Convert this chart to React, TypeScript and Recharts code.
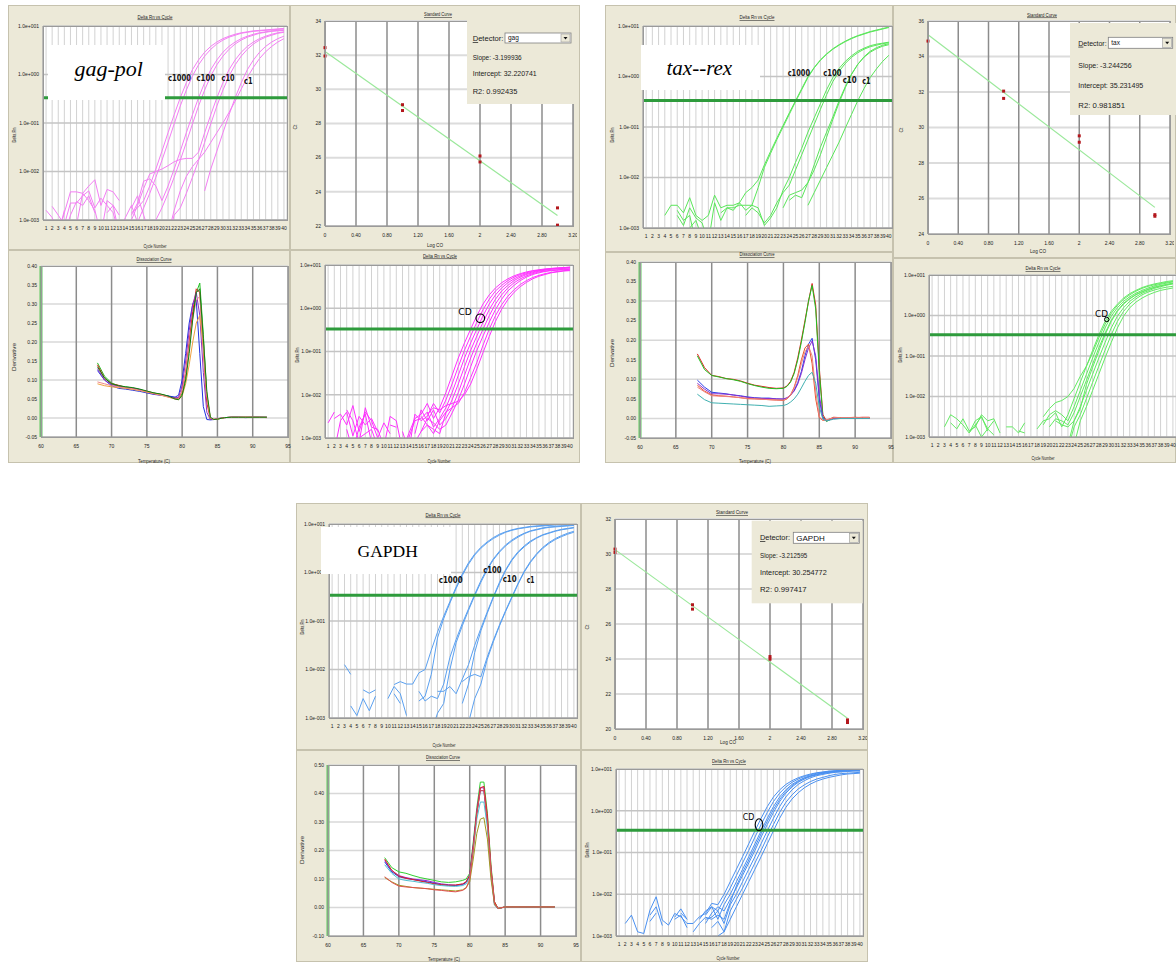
import React from "react";
import {
  CartesianGrid,
  ComposedChart,
  Line,
  LineChart,
  ReferenceLine,
  Scatter,
  XAxis,
  YAxis,
} from "recharts";

// log10(Delta Rn) values; N = no reading plotted (negative / missing Delta Rn)
const N = null;
type Curve = (number | null)[];

const cycles = [1, 2, 3, 4, 5, 6, 7, 8, 9, 10, 11, 12, 13, 14, 15, 16, 17, 18, 19, 20, 21, 22, 23, 24, 25, 26, 27, 28, 29, 30, 31, 32, 33, 34, 35, 36, 37, 38, 39, 40];
const logTicks = [-3, -2, -1, 0, 1];

// gag-pol standards (c1000, c100, c10, c1 in duplicate)
const gagPolRn: Curve[] = [
  [-2.8, -2.95, -3.3, -2.85, -2.42, -2.42, -2.45, -2.3, -2.17, -2.7, -2.37, -2.42, -2.6, N, -2.85, -2.75, -2.6, -2.3, -1.95, -1.58, -1.2, -0.83, -0.48, -0.17, 0.1, 0.3, 0.46, 0.58, 0.67, 0.74, 0.79, 0.83, 0.86, 0.88, 0.9, 0.91, 0.92, 0.93, 0.94, 0.95],
  [N, -2.72, -2.9, -3.1, -2.65, -2.65, -2.5, -2.4, -2.75, -2.55, -2.7, -2.85, -3.3, -2.95, -2.7, -3.05, -2.75, -2.45, -2.12, -1.77, -1.4, -1.02, -0.65, -0.32, -0.03, 0.2, 0.38, 0.52, 0.63, 0.71, 0.77, 0.81, 0.85, 0.87, 0.89, 0.9, 0.91, 0.92, 0.93, 0.94],
  [N, N, -3.3, -2.8, N, -3.1, -2.45, -2.6, -2.8, -3.3, -2.6, -2.7, -2.9, N, -2.9, -2.65, -2.2, -2.15, -2.3, -2.6, -2.3, -1.95, -1.58, -1.2, -0.83, -0.48, -0.17, 0.1, 0.3, 0.46, 0.58, 0.67, 0.74, 0.79, 0.83, 0.86, 0.88, 0.9, 0.91, 0.92],
  [N, N, N, -3.3, -2.9, -2.62, -2.7, -2.5, -2.85, N, -2.85, -2.7, -3.3, N, -2.75, -2.5, -2.9, -3.3, -3.0, -2.75, -2.45, -2.12, -1.77, -1.4, -1.02, -0.65, -0.32, -0.03, 0.2, 0.38, 0.52, 0.63, 0.71, 0.77, 0.81, 0.85, 0.87, 0.89, 0.9, 0.91],
  [N, N, N, N, N, N, N, N, N, N, N, N, N, N, -3.0, -2.7, -2.35, -2.05, -2.0, -1.95, -1.88, -1.8, -1.75, -1.73, -1.73, -1.6, -1.2, -0.83, -0.48, -0.17, 0.1, 0.3, 0.46, 0.58, 0.67, 0.74, 0.79, 0.83, 0.86, 0.88],
  [N, N, N, N, N, N, N, N, N, N, N, N, N, N, N, N, N, N, N, N, -3.4, -2.9, -2.75, -2.45, -2.12, -1.77, -1.4, -1.02, -0.65, -0.32, -0.03, 0.2, 0.38, 0.52, 0.63, 0.71, 0.77, 0.81, 0.85, 0.87],
  [N, N, N, N, N, N, N, N, N, N, N, N, N, N, N, N, N, N, N, N, N, N, N, N, N, N, -2.4, -1.95, -1.58, -1.2, -0.83, -0.48, -0.17, 0.1, 0.3, 0.46, 0.58, 0.67, 0.74, 0.79],
  [N, N, N, N, N, N, N, N, N, N, N, N, N, N, N, N, N, N, N, N, -3.3, -2.8, -2.4, -2.1, -1.9, -1.75, -1.6, -1.4, -1.2, -1.0, -0.78, -0.55, -0.3, -0.06, 0.15, 0.33, 0.47, 0.58, 0.67, 0.74],
];
const gagPolThreshold = -0.48;

const gagCdRn: Curve[] = [
  [-2.65, -2.4, N, -2.35, -2.6, -3.1, -2.3, -2.75, -2.8, -3.2, -2.5, -2.6, -3.3, -2.9, -2.55, -2.45, -2.2, -2.55, -2.3, -1.95, -1.55, -1.15, -0.8, -0.48, -0.17, 0.1, 0.31, 0.47, 0.59, 0.68, 0.75, 0.8, 0.84, 0.87, 0.89, 0.91, 0.92, 0.93, 0.94, 0.95],
  [N, -2.55, -2.45, -2.7, -2.25, -2.85, -2.4, -2.6, -3.0, -2.65, -2.9, N, -2.85, -3.3, -2.45, -2.6, -2.5, -2.2, -2.42, -2.12, -1.75, -1.35, -0.97, -0.64, -0.32, -0.03, 0.21, 0.4, 0.53, 0.64, 0.72, 0.78, 0.82, 0.86, 0.88, 0.9, 0.92, 0.93, 0.94, 0.95],
  [N, -3.3, -2.6, -2.4, -2.95, -2.5, -2.7, -2.55, -2.85, N, -2.7, -2.75, N, -3.0, -2.6, -2.55, -2.4, -2.75, -2.55, -2.3, -1.95, -1.55, -1.15, -0.8, -0.48, -0.17, 0.1, 0.31, 0.47, 0.59, 0.68, 0.75, 0.8, 0.84, 0.87, 0.89, 0.91, 0.92, 0.93, 0.94],
  [N, N, N, -2.8, -3.3, -2.75, -2.45, -3.1, N, N, -2.95, N, N, N, N, -2.5, -2.7, -2.8, -2.9, -2.42, -2.12, -1.75, -1.35, -0.97, -0.64, -0.32, -0.03, 0.21, 0.4, 0.53, 0.64, 0.72, 0.78, 0.82, 0.86, 0.88, 0.9, 0.91, 0.92, 0.93],
  [N, N, N, N, N, -3.0, -2.9, -2.8, -3.2, N, N, N, N, N, -2.9, -2.35, -2.6, -2.35, -2.7, -2.55, -2.3, -1.95, -1.55, -1.15, -0.8, -0.48, -0.17, 0.1, 0.31, 0.47, 0.59, 0.68, 0.75, 0.8, 0.84, 0.86, 0.88, 0.89, 0.9, 0.91],
  [N, N, N, N, N, N, N, N, N, N, N, N, N, N, -3.1, -2.85, -2.55, -2.65, -2.8, -2.7, -2.42, -2.12, -1.75, -1.35, -0.97, -0.64, -0.32, -0.03, 0.21, 0.4, 0.53, 0.64, 0.72, 0.78, 0.82, 0.85, 0.87, 0.88, 0.89, 0.9],
  [N, N, N, N, N, N, N, N, N, N, N, N, N, N, N, -2.85, -2.7, -2.9, -2.6, -2.4, -2.3, -2.2, -1.95, -1.6, -1.25, -0.85, -0.48, -0.17, 0.08, 0.28, 0.43, 0.55, 0.64, 0.71, 0.76, 0.8, 0.83, 0.85, 0.87, 0.88],
  [N, N, N, N, N, N, N, N, N, N, N, N, N, N, N, N, -2.45, -2.3, -2.35, -2.25, -2.2, -2.15, -2.0, -1.75, -1.4, -1.02, -0.65, -0.3, -0.02, 0.2, 0.37, 0.5, 0.6, 0.68, 0.74, 0.78, 0.82, 0.84, 0.86, 0.87],
];

// tax--rex standards
const taxRexRn: Curve[] = [
  [N, N, N, -2.75, -2.55, -2.55, -2.7, -2.4, -2.75, -2.85, -2.75, -2.35, -2.6, -2.55, -2.55, -2.5, -2.3, -2.2, -2.05, -1.75, -1.48, -1.22, -0.97, -0.72, -0.48, -0.24, 0.0, 0.18, 0.33, 0.45, 0.55, 0.63, 0.7, 0.76, 0.81, 0.85, 0.89, 0.92, 0.95, 0.98],
  [N, N, N, N, N, -2.75, -2.95, -2.6, -2.8, -2.9, -3.3, -2.5, -2.85, -2.6, -2.6, -2.55, -2.55, -2.55, -2.2, -1.8, -1.52, -1.25, -1.0, -0.75, -0.5, -0.26, -0.02, 0.17, 0.32, 0.44, 0.54, 0.62, 0.69, 0.75, 0.8, 0.84, 0.88, 0.91, 0.94, 0.97],
  [N, N, N, N, N, -2.65, -2.85, -2.75, -3.3, N, N, N, -2.7, -2.6, -2.65, -2.5, -2.65, -2.55, -2.6, -2.95, -2.8, -2.6, -2.25, -2.0, -1.7, -1.42, -1.1, -0.82, -0.54, -0.26, -0.02, 0.16, 0.3, 0.41, 0.5, 0.56, 0.61, 0.64, 0.66, 0.68],
  [N, N, N, N, N, N, N, -3.0, -2.85, -3.2, N, N, N, N, N, N, -2.75, -2.6, -2.7, -2.9, -2.75, -2.5, -2.3, -2.15, -1.85, -1.55, -1.25, -0.95, -0.65, -0.36, -0.1, 0.1, 0.26, 0.38, 0.47, 0.54, 0.59, 0.62, 0.65, 0.67],
  [N, N, N, N, N, N, N, N, N, N, N, N, N, N, N, N, N, N, N, N, N, N, -2.6, -2.35, -2.3, -2.25, -2.1, -1.85, -1.55, -1.2, -0.85, -0.52, -0.22, 0.04, 0.24, 0.39, 0.5, 0.57, 0.62, 0.65],
  [N, N, N, N, N, N, N, N, N, N, N, N, N, N, N, N, N, N, N, N, N, N, N, -2.45, -2.35, -2.4, -2.1, -1.75, -1.4, -1.1, -0.8, -0.48, -0.2, 0.05, 0.24, 0.38, 0.48, 0.55, 0.6, 0.63],
  [N, N, N, N, N, N, N, N, N, N, N, N, N, N, N, N, N, N, N, N, N, N, N, N, N, N, -2.55, -2.3, -2.05, -1.8, -1.55, -1.3, -1.02, -0.75, -0.48, -0.24, -0.02, 0.15, 0.3, 0.42],
];
const taxRexThreshold = -0.475;

const taxCdRn: Curve[] = [
  [N, N, -2.75, -2.45, -2.55, -2.7, -2.9, -2.6, -2.5, -2.8, -2.95, N, -2.75, -2.75, -2.9, -2.65, N, -2.8, -2.6, -2.55, -2.4, -2.75, -2.45, -2.05, -1.65, -1.25, -0.86, -0.48, -0.15, 0.1, 0.28, 0.43, 0.54, 0.62, 0.69, 0.74, 0.78, 0.81, 0.84, 0.86],
  [N, N, N, -2.65, -2.8, -2.55, -2.85, -2.75, -2.45, -2.6, -2.55, -2.9, N, N, N, -2.8, N, N, -2.7, -2.45, -2.35, -2.45, -2.6, -2.25, -1.85, -1.45, -1.05, -0.67, -0.31, -0.02, 0.19, 0.35, 0.46, 0.55, 0.62, 0.68, 0.73, 0.77, 0.8, 0.83],
  [N, N, N, N, N, N, -2.9, -2.7, -3.0, -2.8, -2.6, N, N, N, -2.85, -2.9, N, N, N, -2.75, -2.55, -2.6, -2.7, -2.4, -2.0, -1.6, -1.2, -0.8, -0.44, -0.12, 0.12, 0.3, 0.42, 0.52, 0.59, 0.65, 0.7, 0.74, 0.77, 0.8],
  [N, N, N, N, N, N, N, -2.7, -2.5, -2.85, N, -2.6, N, N, N, N, N, N, N, N, -2.6, -2.7, -2.75, -2.6, -2.3, -1.7, -1.28, -0.88, -0.48, -0.15, 0.1, 0.28, 0.41, 0.51, 0.58, 0.64, 0.69, 0.73, 0.76, 0.79],
  [N, N, N, N, N, N, N, N, N, N, N, N, N, N, N, N, N, N, N, N, N, N, -3.2, -2.6, -2.25, -1.85, -1.45, -1.05, -0.67, -0.31, -0.02, 0.19, 0.35, 0.46, 0.55, 0.61, 0.67, 0.71, 0.75, 0.78],
  [N, N, N, N, N, N, N, N, N, N, N, N, N, N, N, N, N, N, N, N, N, N, -3.3, -2.75, -2.45, -2.05, -1.65, -1.25, -0.86, -0.48, -0.15, 0.1, 0.28, 0.41, 0.51, 0.58, 0.63, 0.67, 0.7, 0.72],
  [N, N, N, N, N, N, N, N, N, N, N, N, N, N, N, N, N, N, N, N, N, N, N, -3.2, -2.6, -2.25, -1.85, -1.45, -1.05, -0.67, -0.31, -0.02, 0.19, 0.33, 0.43, 0.51, 0.57, 0.62, 0.65, 0.68],
  [N, N, N, N, N, N, N, N, N, N, N, N, N, N, N, N, N, N, -2.5, -2.3, -2.15, -2.1, -2.0, -1.8, -1.5, -1.25, -0.92, -0.55, -0.22, 0.05, 0.25, 0.4, 0.51, 0.6, 0.67, 0.72, 0.76, 0.79, 0.82, 0.84],
];

// GAPDH standards
const gapdhRn: Curve[] = [
  [N, N, -1.9, -2.1, N, -2.42, -2.49, -2.42, N, N, -2.31, -2.25, -2.3, -2.3, -2.07, -2.0, -1.6, -1.23, -0.9, -0.6, -0.3, -0.03, 0.2, 0.38, 0.52, 0.63, 0.72, 0.79, 0.84, 0.88, 0.91, 0.93, 0.95, 0.96, 0.97, 0.98, 0.99, 0.99, 1.0, 1.0],
  [N, N, N, -2.75, -2.95, -2.6, -2.85, -2.55, N, -2.6, -2.35, -2.5, -2.95, N, -2.65, -2.55, -2.1, -1.35, -0.95, -0.63, -0.33, -0.06, 0.17, 0.36, 0.5, 0.61, 0.7, 0.77, 0.83, 0.87, 0.9, 0.92, 0.94, 0.95, 0.96, 0.97, 0.98, 0.98, 0.99, 0.99],
  [N, N, N, N, N, N, -2.75, N, N, N, -2.5, -2.7, N, N, -2.45, -2.65, -2.55, -2.6, -2.3, -1.75, -1.38, -1.05, -0.75, -0.45, -0.17, 0.08, 0.28, 0.44, 0.57, 0.67, 0.75, 0.81, 0.86, 0.89, 0.92, 0.94, 0.95, 0.96, 0.97, 0.98],
  [N, N, N, N, N, N, N, N, N, N, N, N, N, N, N, N, -3.3, -2.9, -2.7, -2.0, -1.45, -1.1, -0.78, -0.48, -0.2, 0.05, 0.26, 0.42, 0.55, 0.65, 0.73, 0.8, 0.85, 0.88, 0.91, 0.93, 0.94, 0.95, 0.96, 0.97],
  [N, N, N, N, N, N, N, N, N, N, N, N, N, N, N, N, N, -2.45, -2.45, -2.35, -2.5, -2.2, -1.9, -1.5, -1.15, -0.82, -0.5, -0.2, 0.06, 0.27, 0.43, 0.55, 0.65, 0.72, 0.78, 0.82, 0.86, 0.89, 0.91, 0.93],
  [N, N, N, N, N, N, N, N, N, N, N, N, N, N, N, N, N, N, N, -2.7, N, -2.7, -2.3, -1.65, -1.2, -0.85, -0.52, -0.23, 0.04, 0.25, 0.41, 0.53, 0.63, 0.71, 0.77, 0.81, 0.85, 0.88, 0.9, 0.92],
  [N, N, N, N, N, N, N, N, N, N, N, N, N, N, N, N, N, N, N, N, N, -2.25, -2.15, -2.1, -2.15, -1.75, -1.4, -1.08, -0.78, -0.5, -0.22, 0.03, 0.23, 0.39, 0.52, 0.62, 0.7, 0.76, 0.81, 0.85],
  [N, N, N, N, N, N, N, N, N, N, N, N, N, N, N, N, N, N, N, N, N, N, -3.1, -2.6, -2.3, -1.8, -1.43, -1.1, -0.8, -0.52, -0.24, 0.01, 0.21, 0.37, 0.5, 0.6, 0.68, 0.74, 0.79, 0.83],
];
const gapdhThreshold = -0.47;

const gapdhCdRn: Curve[] = [
  [N, -2.7, -2.5, -2.9, -2.94, -2.38, -2.06, -2.62, -2.74, -2.46, -2.54, -2.7, -2.7, -2.54, -2.46, -2.22, -2.25, -2.0, -1.7, -1.4, -1.1, -0.79, -0.48, -0.18, 0.1, 0.33, 0.5, 0.63, 0.72, 0.79, 0.84, 0.88, 0.91, 0.93, 0.95, 0.96, 0.97, 0.98, 0.99, 1.0],
  [N, N, N, -2.75, N, -2.5, -2.3, -2.75, N, -2.6, -2.5, -2.8, N, -2.6, -2.4, -2.3, -2.4, -2.12, -1.85, -1.55, -1.25, -0.95, -0.63, -0.33, -0.04, 0.22, 0.42, 0.57, 0.68, 0.76, 0.82, 0.86, 0.9, 0.92, 0.94, 0.95, 0.96, 0.97, 0.98, 0.98],
  [N, N, N, N, N, -2.65, -2.45, N, N, -2.55, -2.35, -2.6, N, N, -2.5, -2.3, -2.6, -2.25, -2.0, -1.7, -1.4, -1.1, -0.79, -0.48, -0.18, 0.1, 0.33, 0.5, 0.63, 0.72, 0.79, 0.84, 0.88, 0.91, 0.93, 0.95, 0.96, 0.97, 0.97, 0.98],
  [N, N, N, N, N, N, N, N, N, N, -2.45, -2.6, N, N, -2.7, -2.45, -2.3, -2.4, -2.12, -1.85, -1.55, -1.25, -0.95, -0.63, -0.33, -0.04, 0.22, 0.42, 0.57, 0.68, 0.76, 0.82, 0.86, 0.89, 0.91, 0.93, 0.94, 0.95, 0.96, 0.96],
  [N, N, N, N, N, N, N, N, N, N, N, N, N, N, -2.6, -2.55, -2.4, -2.7, -2.25, -2.0, -1.7, -1.4, -1.1, -0.79, -0.48, -0.18, 0.1, 0.33, 0.5, 0.63, 0.72, 0.79, 0.84, 0.87, 0.9, 0.92, 0.93, 0.94, 0.95, 0.95],
  [N, N, N, N, N, N, N, N, N, N, N, N, N, N, N, -2.8, -2.65, -2.9, -2.4, -2.12, -1.85, -1.55, -1.25, -0.95, -0.63, -0.33, -0.04, 0.2, 0.38, 0.52, 0.62, 0.7, 0.76, 0.8, 0.84, 0.87, 0.89, 0.9, 0.91, 0.92],
  [N, N, N, N, N, N, N, N, N, N, N, N, N, N, N, N, -3.0, -2.9, -2.6, -2.3, -2.0, -1.7, -1.4, -1.1, -0.79, -0.48, -0.18, 0.08, 0.28, 0.43, 0.55, 0.64, 0.71, 0.76, 0.8, 0.83, 0.86, 0.88, 0.89, 0.9],
  [N, N, N, N, N, N, N, N, N, N, N, N, -2.9, -2.7, -2.55, -2.6, -2.5, -2.6, -2.2, -1.8, -1.48, -1.18, -0.87, -0.55, -0.25, 0.03, 0.27, 0.46, 0.6, 0.7, 0.78, 0.83, 0.87, 0.9, 0.92, 0.94, 0.95, 0.96, 0.97, 0.97],
];

// standard curves: Ct vs log(copies)
const stdTicksX = [0, 0.4, 0.8, 1.2, 1.6, 2, 2.4, 2.8, 3.2];
const fitLogCO = [0, 3];
const gagStdLogCO = [0, 0, 1, 1, 2, 2, 3, 3];
const gagStdCt = [32.44, 31.95, 29.1, 28.76, 26.1, 25.75, 23.06, 22.05];
const gagFitCt = [32.22, 22.62];
const gagCtTicks = [22, 24, 26, 28, 30, 32, 34];
const taxStdLogCO = [0, 1, 1, 2, 2, 3, 3];
const taxStdCt = [34.87, 32.05, 31.64, 29.53, 29.17, 25.09, 25.0];
const taxFitCt = [35.23, 25.5];
const taxCtTicks = [24, 26, 28, 30, 32, 34, 36];
const gapStdLogCO = [0, 0, 1, 1, 2, 2, 3, 3];
const gapStdCt = [30.28, 30.09, 27.1, 26.85, 24.14, 23.99, 20.52, 20.37];
const gapFitCt = [30.25, 20.62];
const gapCtTicks = [20, 22, 24, 26, 28, 30, 32];

// dissociation curves: derivative vs temperature
const tempTicks = [60, 65, 70, 75, 80, 85, 90, 95];
const derivTicksA = [-0.05, 0, 0.05, 0.1, 0.15, 0.2, 0.25, 0.3, 0.35, 0.4];
const derivTicksB = [-0.1, 0, 0.1, 0.2, 0.3, 0.4, 0.5];

const gagMeltT = [68, 69, 70, 71, 72, 73, 74, 75, 76, 77, 78, 79, 79.5, 80, 80.5, 81, 81.5, 82, 82.5, 83, 83.5, 84, 84.5, 85, 86, 87, 88, 89, 90, 91, 92];
const gagMelt = [
  [0.145, 0.11, 0.092, 0.085, 0.082, 0.079, 0.075, 0.07, 0.066, 0.062, 0.058, 0.052, 0.05, 0.065, 0.11, 0.19, 0.27, 0.33, 0.355, 0.22, 0.06, -0.002, -0.004, -0.003, 0.001, 0.002, 0.002, 0.002, 0.002, 0.002, 0.002],
  [0.14, 0.105, 0.09, 0.086, 0.08, 0.078, 0.074, 0.07, 0.065, 0.062, 0.057, 0.053, 0.052, 0.07, 0.12, 0.2, 0.28, 0.34, 0.33, 0.18, 0.04, -0.003, -0.004, -0.002, 0.001, 0.002, 0.002, 0.002, 0.002, 0.002, 0.001],
  [0.125, 0.1, 0.085, 0.078, 0.076, 0.073, 0.07, 0.066, 0.062, 0.06, 0.058, 0.055, 0.06, 0.1, 0.17, 0.25, 0.3, 0.31, 0.17, 0.03, -0.004, -0.005, -0.004, -0.002, 0.001, 0.002, 0.002, 0.001, 0.002, 0.002, 0.002],
  [0.13, 0.1, 0.088, 0.083, 0.08, 0.078, 0.075, 0.068, 0.063, 0.06, 0.056, 0.052, 0.055, 0.085, 0.15, 0.23, 0.3, 0.33, 0.27, 0.12, 0.015, -0.004, -0.004, -0.002, 0.001, 0.002, 0.002, 0.002, 0.002, 0.002, 0.002],
  [0.09, 0.085, 0.082, 0.08, 0.078, 0.075, 0.072, 0.068, 0.064, 0.06, 0.055, 0.05, 0.048, 0.058, 0.09, 0.14, 0.2, 0.25, 0.27, 0.19, 0.06, 0.0, -0.004, -0.003, 0.001, 0.002, 0.002, 0.002, 0.002, 0.002, 0.002],
  [0.095, 0.09, 0.085, 0.082, 0.08, 0.077, 0.073, 0.07, 0.065, 0.061, 0.056, 0.05, 0.05, 0.07, 0.12, 0.19, 0.26, 0.31, 0.32, 0.2, 0.06, 0.0, -0.003, -0.002, 0.001, 0.002, 0.002, 0.002, 0.002, 0.002, 0.002],
  [0.135, 0.105, 0.09, 0.085, 0.082, 0.08, 0.076, 0.071, 0.066, 0.063, 0.058, 0.05, 0.048, 0.06, 0.1, 0.17, 0.26, 0.33, 0.34, 0.21, 0.07, 0.002, -0.004, -0.003, 0.001, 0.002, 0.002, 0.002, 0.002, 0.002, 0.002],
];
const gagMeltColors = ["#20c020", "#e02020", "#2030e0", "#9030c0", "#f0a040", "#f08888", "#108010"];

const taxMeltT = [68, 69, 70, 71, 72, 73, 74, 75, 76, 77, 78, 79, 80, 80.5, 81, 81.5, 82, 82.5, 83, 83.5, 84, 84.5, 85, 85.5, 86, 87, 88, 89, 90, 91, 92];
const taxMelt = [
  [0.165, 0.13, 0.11, 0.107, 0.102, 0.1, 0.096, 0.09, 0.085, 0.082, 0.079, 0.077, 0.078, 0.083, 0.095, 0.118, 0.155, 0.2, 0.25, 0.3, 0.345, 0.29, 0.13, 0.01, -0.006, 0.003, 0.002, 0.002, 0.002, 0.003, 0.003],
  [0.16, 0.125, 0.11, 0.106, 0.102, 0.099, 0.095, 0.089, 0.084, 0.08, 0.077, 0.076, 0.077, 0.082, 0.093, 0.115, 0.15, 0.195, 0.245, 0.3, 0.34, 0.28, 0.12, 0.005, -0.008, 0.002, 0.002, 0.002, 0.002, 0.002, 0.002],
  [0.098, 0.08, 0.067, 0.065, 0.063, 0.06, 0.058, 0.055, 0.053, 0.052, 0.052, 0.05, 0.049, 0.052, 0.06, 0.072, 0.092, 0.12, 0.16, 0.19, 0.205, 0.15, 0.05, 0.0, -0.005, 0.0, 0.0, 0.0, 0.0, 0.0, 0.0],
  [0.09, 0.075, 0.063, 0.063, 0.062, 0.06, 0.057, 0.054, 0.052, 0.051, 0.051, 0.05, 0.05, 0.053, 0.06, 0.07, 0.088, 0.115, 0.15, 0.18, 0.198, 0.16, 0.06, 0.002, -0.006, 0.0, 0.0, 0.0, 0.0, 0.0, 0.0],
  [0.085, 0.07, 0.06, 0.058, 0.057, 0.055, 0.053, 0.051, 0.05, 0.049, 0.048, 0.047, 0.046, 0.05, 0.06, 0.08, 0.11, 0.15, 0.18, 0.19, 0.14, 0.05, 0.002, -0.005, -0.004, 0.002, 0.002, 0.002, 0.003, 0.002, 0.002],
  [0.08, 0.068, 0.058, 0.057, 0.056, 0.055, 0.053, 0.05, 0.05, 0.049, 0.048, 0.047, 0.047, 0.051, 0.06, 0.078, 0.105, 0.14, 0.17, 0.185, 0.16, 0.07, 0.004, -0.004, -0.004, 0.002, 0.002, 0.002, 0.002, 0.002, 0.002],
  [0.062, 0.048, 0.04, 0.039, 0.038, 0.037, 0.036, 0.035, 0.034, 0.033, 0.031, 0.032, 0.033, 0.036, 0.042, 0.05, 0.062, 0.078, 0.095, 0.11, 0.118, 0.09, 0.03, -0.002, -0.006, -0.002, 0.0, 0.0, 0.0, 0.0, 0.0],
];
const taxMeltColors = ["#e02020", "#20c020", "#2a40e8", "#8a30d0", "#e8552a", "#f08080", "#40b0b0"];

const gapMeltT = [68, 69, 70, 71, 72, 73, 74, 75, 76, 77, 78, 79, 79.5, 80, 80.5, 81, 81.5, 82, 82.5, 83, 83.5, 84, 85, 86, 87, 88, 89, 90, 91, 92];
const gapMelt = [
  [0.175, 0.14, 0.125, 0.12, 0.112, 0.105, 0.1, 0.095, 0.09, 0.088, 0.09, 0.095, 0.1, 0.12, 0.23, 0.35, 0.44, 0.44, 0.33, 0.15, 0.02, -0.003, 0.002, 0.003, 0.003, 0.002, 0.003, 0.002, 0.002, 0.002],
  [0.165, 0.13, 0.112, 0.105, 0.1, 0.097, 0.094, 0.088, 0.083, 0.08, 0.078, 0.082, 0.09, 0.115, 0.22, 0.34, 0.42, 0.42, 0.3, 0.13, 0.015, -0.004, 0.002, 0.002, 0.002, 0.002, 0.002, 0.002, 0.002, 0.002],
  [0.16, 0.125, 0.108, 0.102, 0.098, 0.094, 0.09, 0.085, 0.08, 0.078, 0.077, 0.08, 0.088, 0.11, 0.21, 0.33, 0.41, 0.41, 0.3, 0.12, 0.01, -0.004, 0.002, 0.002, 0.002, 0.002, 0.002, 0.002, 0.002, 0.002],
  [0.17, 0.13, 0.11, 0.103, 0.098, 0.093, 0.088, 0.083, 0.08, 0.078, 0.079, 0.083, 0.09, 0.113, 0.215, 0.33, 0.42, 0.425, 0.32, 0.14, 0.02, -0.003, 0.002, 0.002, 0.002, 0.002, 0.002, 0.002, 0.002, 0.002],
  [0.15, 0.12, 0.1, 0.095, 0.092, 0.088, 0.085, 0.08, 0.077, 0.075, 0.074, 0.077, 0.083, 0.105, 0.2, 0.31, 0.37, 0.37, 0.28, 0.12, 0.01, -0.003, 0.002, 0.002, 0.002, 0.002, 0.002, 0.002, 0.002, 0.002],
  [0.105, 0.09, 0.078, 0.074, 0.07, 0.068, 0.066, 0.064, 0.062, 0.06, 0.058, 0.062, 0.07, 0.09, 0.17, 0.26, 0.31, 0.315, 0.24, 0.1, 0.01, -0.004, 0.002, 0.002, 0.002, 0.002, 0.002, 0.002, 0.002, 0.002],
  [0.108, 0.088, 0.075, 0.072, 0.07, 0.068, 0.066, 0.062, 0.06, 0.057, 0.055, 0.06, 0.068, 0.1, 0.2, 0.33, 0.41, 0.41, 0.3, 0.13, 0.015, -0.003, 0.002, 0.002, 0.002, 0.002, 0.002, 0.002, 0.002, 0.002],
];
const gapMeltColors = ["#30d030", "#a020d0", "#2040e0", "#e02020", "#50c0d0", "#a09a20", "#e05050"];

const BEIGE = "#ece9d8";
const FONT = "'Liberation Sans Narrow','Liberation Sans',Arial,sans-serif";
const tick5 = { fontSize: 5, fill: "#222", fontFamily: FONT };

type Box = { x: number; y: number; w: number; h: number };
const YW = 36;
const MT = 4;
const MR = 4;
const XH = 16;

const plots: Record<string, Box> = {
  gagAmp: { x: 43, y: 26, w: 244, h: 194 },
  gagStd: { x: 325, y: 21, w: 248, h: 205 },
  gagDiss: { x: 41, y: 266, w: 247, h: 171 },
  gagCd: { x: 325, y: 265, w: 248, h: 173 },
  taxAmp: { x: 643, y: 26, w: 249, h: 202 },
  taxStd: { x: 928, y: 21, w: 242, h: 213 },
  taxDiss: { x: 640, y: 262, w: 251, h: 176 },
  taxCd: { x: 929, y: 275, w: 247, h: 162 },
  gapAmp: { x: 329, y: 524, w: 248, h: 194 },
  gapStd: { x: 615, y: 519, w: 248, h: 210 },
  gapDiss: { x: 328, y: 765, w: 248, h: 171 },
  gapCd: { x: 616, y: 769, w: 247, h: 167 },
};

const panels: Box[] = [
  { x: 8, y: 5, w: 282, h: 245 }, { x: 290, y: 5, w: 290, h: 245 },
  { x: 8, y: 250, w: 282, h: 213 }, { x: 290, y: 250, w: 290, h: 213 },
  { x: 605, y: 5, w: 288, h: 247 }, { x: 893, y: 5, w: 283, h: 253 },
  { x: 605, y: 252, w: 288, h: 211 }, { x: 893, y: 258, w: 283, h: 205 },
  { x: 296, y: 503, w: 285, h: 247 }, { x: 581, y: 503, w: 287, h: 247 },
  { x: 296, y: 750, w: 285, h: 212 }, { x: 581, y: 750, w: 287, h: 212 },
];

const size = (b: Box) => ({
  width: b.w + YW + MR,
  height: b.h + MT + XH,
  margin: { top: MT, right: MR, bottom: 0, left: 0 },
});

function Frame({ box, children }: { box: Box; children: React.ReactNode }) {
  return <div style={{ position: "absolute", left: box.x - YW, top: box.y - MT }}>{children}</div>;
}

const expLabel = (v: number) => `1.0e${v < 0 ? "-" : "+"}${String(Math.abs(v)).padStart(3, "0")}`;

function AmpChart({ box, curves, color, threshold }: { box: Box; curves: Curve[]; color: string; threshold: number }) {
  const rows = cycles.map((c, i) => {
    const r: Record<string, number | null> = { c };
    curves.forEach((s, j) => {
      r["s" + j] = s[i];
    });
    return r;
  });
  return (
    <Frame box={box}>
      <LineChart {...size(box)} data={rows}>
        <CartesianGrid horizontal={false} stroke="#d2d2d2" fill="#fff" />
        <CartesianGrid vertical={false} stroke="#c4c4c4" strokeWidth={1.5} />
        <XAxis dataKey="c" type="number" domain={[0.5, 40.5]} ticks={cycles} interval={0} height={XH}
          tick={tick5} tickLine={false} tickSize={2} tickMargin={4} axisLine={{ stroke: "#999" }} />
        <YAxis type="number" domain={[-3, 1]} ticks={logTicks} allowDataOverflow width={YW} tickFormatter={expLabel}
          tick={tick5} tickLine={false} tickSize={2} tickMargin={2} axisLine={{ stroke: "#999" }} />
        {curves.map((_, j) => (
          <Line key={j} type="linear" dataKey={"s" + j} stroke={color} strokeWidth={1} dot={false} isAnimationActive={false} />
        ))}
        <ReferenceLine y={threshold} stroke="#2e9b3c" strokeWidth={3} />
      </LineChart>
    </Frame>
  );
}

const sq = (p: any) => <rect x={p.cx - 1.5} y={p.cy - 1.5} width={3} height={3} fill="#b3171d" />;

function StdChart({ box, logCO, ct, fitCt, yTicks }: { box: Box; logCO: number[]; ct: number[]; fitCt: number[]; yTicks: number[] }) {
  const pts = logCO.map((x, i) => ({ x, y: ct[i] }));
  const fit = fitLogCO.map((x, i) => ({ x, y: fitCt[i] }));
  return (
    <Frame box={box}>
      <ComposedChart {...size(box)}>
        <CartesianGrid vertical={false} stroke="#dcdcdc" strokeWidth={2} fill="#fff" />
        <CartesianGrid horizontal={false} stroke="#8c8c8c" strokeWidth={1.5} />
        <XAxis dataKey="x" type="number" domain={[0, 3.2]} ticks={stdTicksX} interval={0} height={XH}
          tickFormatter={(v: number) => (v === 0 || v === 2 ? String(v) : v.toFixed(2))}
          tick={tick5} tickLine={false} tickSize={2} tickMargin={5} axisLine={{ stroke: "#999" }} />
        <YAxis type="number" domain={[yTicks[0], yTicks[yTicks.length - 1]]} ticks={yTicks} width={YW}
          tick={tick5} tickLine={false} tickSize={2} tickMargin={2} axisLine={{ stroke: "#999" }} />
        <Line data={fit} type="linear" dataKey="y" stroke="#9be89b" strokeWidth={1.2} dot={false} isAnimationActive={false} />
        <Scatter data={pts} dataKey="y" shape={sq} isAnimationActive={false} />
      </ComposedChart>
    </Frame>
  );
}

function MeltChart({ box, temps, curves, colors, yTicks }: { box: Box; temps: number[]; curves: number[][]; colors: string[]; yTicks: number[] }) {
  const rows = temps.map((t, i) => {
    const r: Record<string, number> = { t };
    curves.forEach((s, j) => {
      r["s" + j] = s[i];
    });
    return r;
  });
  return (
    <Frame box={box}>
      <LineChart {...size(box)} data={rows}>
        <CartesianGrid vertical={false} stroke="#d8d8d8" strokeWidth={1.5} fill="#fff" />
        <CartesianGrid horizontal={false} stroke="#8c8c8c" strokeWidth={1.5} />
        <XAxis dataKey="t" type="number" domain={[60, 95]} ticks={tempTicks} interval={0} height={XH}
          tick={tick5} tickLine={false} tickSize={2} tickMargin={5} axisLine={{ stroke: "#999" }} />
        <YAxis type="number" domain={[yTicks[0], yTicks[yTicks.length - 1]]} ticks={yTicks} width={YW}
          tickFormatter={(v: number) => v.toFixed(2)}
          tick={tick5} tickLine={false} tickSize={2} tickMargin={2} axisLine={{ stroke: "#999" }} />
        {curves.map((_, j) => (
          <Line key={j} type="linear" dataKey={"s" + j} stroke={colors[j]} strokeWidth={1} dot={false} isAnimationActive={false} />
        ))}
        <ReferenceLine x={60} stroke="#5ec85e" strokeWidth={3} />
      </LineChart>
    </Frame>
  );
}

function Txt({ x, y, len, size = 5.5, anchor = "middle", under = false, children }: {
  x: number; y: number; len?: number; size?: number; anchor?: "start" | "middle" | "end"; under?: boolean; children: React.ReactNode;
}) {
  return (
    <text x={x} y={y} fontSize={size} fontFamily={FONT} fill="#222" textAnchor={anchor}
      textLength={len} lengthAdjust={len ? "spacingAndGlyphs" : undefined}
      textDecoration={under ? "underline" : undefined}>
      {children}
    </text>
  );
}

function VTxt({ x, y, len, children }: { x: number; y: number; len: number; children: React.ReactNode }) {
  return (
    <text transform={`translate(${x},${y}) rotate(-90)`} fontSize={5.5} fontFamily={FONT} fill="#222"
      textAnchor="middle" dy="0.35em" textLength={len} lengthAdjust="spacingAndGlyphs">
      {children}
    </text>
  );
}

function Detector({ bx, by, bw, bh, tx, base, lens, combo, name, nameSize, lines }: {
  bx: number; by: number; bw: number; bh: number; tx: number; base: number[]; lens: number[];
  combo: Box; name: string; nameSize: number; lines: string[];
}) {
  const btn = combo.x + combo.w - 10;
  const my = combo.y + combo.h / 2;
  return (
    <g>
      <rect x={bx} y={by} width={bw} height={bh} fill={BEIGE} />
      <rect x={combo.x} y={combo.y} width={combo.w} height={combo.h} fill="#fff" stroke="#7f7f7f" strokeWidth={0.8} />
      <rect x={btn} y={combo.y + 1} width={9} height={combo.h - 2} fill={BEIGE} stroke="#999" strokeWidth={0.6} />
      <path d={`M${btn + 2.5},${my - 1} L${btn + 6.5},${my - 1} L${btn + 4.5},${my + 1.5} Z`} fill="#111" />
      <text x={combo.x + 3} y={my + nameSize * 0.36} fontSize={nameSize} fontFamily={FONT} fill="#111">{name}</text>
      <text x={tx} y={base[0]} fontSize={7.5} fontFamily={FONT} fill="#222" textLength={lens[0]} lengthAdjust="spacingAndGlyphs">
        <tspan textDecoration="underline">D</tspan>etector:
      </text>
      {lines.map((s, i) => (
        <text key={i} x={tx} y={base[i + 1]} fontSize={7.5} fontFamily={FONT} fill="#222" textLength={lens[i + 1]} lengthAdjust="spacingAndGlyphs">
          {s}
        </text>
      ))}
    </g>
  );
}

const cLabel = { fontFamily: "'DejaVu Sans',Arial,sans-serif", fontWeight: 700, fontSize: 8.5, fill: "#111" };

export default function App() {
  return (
    <div style={{ position: "absolute", left: 0, top: 0, width: 1176, height: 962, overflow: "hidden", background: "#fff" }}>
      {panels.map((p, i) => (
        <div key={i} style={{ position: "absolute", left: p.x, top: p.y, width: p.w, height: p.h, background: BEIGE, boxSizing: "border-box", border: "1px solid #c6c2ae" }} />
      ))}

      <AmpChart box={plots.gagAmp} curves={gagPolRn} color="#f47ef4" threshold={gagPolThreshold} />
      <StdChart box={plots.gagStd} logCO={gagStdLogCO} ct={gagStdCt} fitCt={gagFitCt} yTicks={gagCtTicks} />
      <MeltChart box={plots.gagDiss} temps={gagMeltT} curves={gagMelt} colors={gagMeltColors} yTicks={derivTicksA} />
      <AmpChart box={plots.gagCd} curves={gagCdRn} color="#ff30ff" threshold={gagPolThreshold} />

      <AmpChart box={plots.taxAmp} curves={taxRexRn} color="#5ae65a" threshold={taxRexThreshold} />
      <StdChart box={plots.taxStd} logCO={taxStdLogCO} ct={taxStdCt} fitCt={taxFitCt} yTicks={taxCtTicks} />
      <MeltChart box={plots.taxDiss} temps={taxMeltT} curves={taxMelt} colors={taxMeltColors} yTicks={derivTicksA} />
      <AmpChart box={plots.taxCd} curves={taxCdRn} color="#62ea62" threshold={taxRexThreshold} />

      <AmpChart box={plots.gapAmp} curves={gapdhRn} color="#5aa0f0" threshold={gapdhThreshold} />
      <StdChart box={plots.gapStd} logCO={gapStdLogCO} ct={gapStdCt} fitCt={gapFitCt} yTicks={gapCtTicks} />
      <MeltChart box={plots.gapDiss} temps={gapMeltT} curves={gapMelt} colors={gapMeltColors} yTicks={derivTicksB} />
      <AmpChart box={plots.gapCd} curves={gapdhCdRn} color="#4a90f0" threshold={gapdhThreshold} />

      <svg width={1176} height={962} style={{ position: "absolute", left: 0, top: 0, pointerEvents: "none" }}>
        {Object.values(plots).map((b, i) => (
          <rect key={i} x={b.x + 0.5} y={b.y + 0.5} width={b.w} height={b.h} fill="none" stroke="#9a9a9a" />
        ))}

        {/* panel titles */}
        <Txt x={155} y={18.5} len={35} under>Delta Rn vs Cycle</Txt>
        <Txt x={438} y={16} len={28} under>Standard Curve</Txt>
        <Txt x={154} y={261} len={35} under>Dissociation Curve</Txt>
        <Txt x={440} y={257.5} len={34} under>Delta Rn vs Cycle</Txt>
        <Txt x={757} y={19} len={35} under>Delta Rn vs Cycle</Txt>
        <Txt x={1042} y={16.5} len={30} under>Standard Curve</Txt>
        <Txt x={757} y={256} len={35} under>Dissociation Curve</Txt>
        <Txt x={1043} y={270} len={35} under>Delta Rn vs Cycle</Txt>
        <Txt x={443} y={516.5} len={35} under>Delta Rn vs Cycle</Txt>
        <Txt x={732} y={514} len={32} under>Standard Curve</Txt>
        <Txt x={443} y={759} len={34} under>Dissociation Curve</Txt>
        <Txt x={729} y={763} len={34} under>Delta Rn vs Cycle</Txt>

        {/* axis titles */}
        <Txt x={155} y={247.5} len={23}>Cycle Number</Txt>
        <Txt x={435} y={247} len={16}>Log CO</Txt>
        <Txt x={154} y={462.5} len={32}>Temperature (C)</Txt>
        <Txt x={439} y={462.5} len={23}>Cycle Number</Txt>
        <Txt x={1038} y={253} len={16}>Log CO</Txt>
        <Txt x={755} y={462.5} len={32}>Temperature (C)</Txt>
        <Txt x={1043} y={460} len={23}>Cycle Number</Txt>
        <Txt x={444} y={746.5} len={23}>Cycle Number</Txt>
        <Txt x={728} y={744} len={16}>Log CO</Txt>
        <Txt x={444} y={960.5} len={32}>Temperature (C)</Txt>
        <Txt x={728} y={960} len={23}>Cycle Number</Txt>
        <VTxt x={14} y={135} len={15}>Delta Rn</VTxt>
        <VTxt x={295} y={127} len={5}>Ct</VTxt>
        <VTxt x={14} y={357} len={28}>Derivative</VTxt>
        <VTxt x={297} y={355} len={15}>Delta Rn</VTxt>
        <VTxt x={612} y={135} len={15}>Delta Rn</VTxt>
        <VTxt x={901} y={130} len={5}>Ct</VTxt>
        <VTxt x={612} y={353} len={28}>Derivative</VTxt>
        <VTxt x={900} y={355} len={15}>Delta Rn</VTxt>
        <VTxt x={302} y={627} len={15}>Delta Rn</VTxt>
        <VTxt x={587} y={627} len={5}>Ct</VTxt>
        <VTxt x={302} y={850} len={28}>Derivative</VTxt>
        <VTxt x={587} y={850} len={15}>Delta Rn</VTxt>

        {/* gene name boxes */}
        <rect x={48} y={45} width={117} height={55} fill="#fff" />
        <text x={74.5} y={75.5} fontSize={22} fontStyle="italic" fontFamily="'Liberation Serif','Times New Roman',serif" fill="#000">gag-pol</text>
        <rect x={641} y={45} width={119} height={45} fill="#fff" />
        <text x={666.5} y={75} fontSize={21} fontStyle="italic" fontFamily="'Liberation Serif','Times New Roman',serif" fill="#000">tax--rex</text>
        <rect x={321} y={527} width={130} height={47} fill="#fff" />
        <text x={357.5} y={556.5} fontSize={17.5} fontFamily="'Liberation Serif','Times New Roman',serif" fill="#000">GAPDH</text>

        {/* dilution labels */}
        <text x={168} y={81} {...cLabel} textLength={23} lengthAdjust="spacingAndGlyphs">c1000</text>
        <text x={196.5} y={81} {...cLabel} textLength={18.5} lengthAdjust="spacingAndGlyphs">c100</text>
        <text x={221.5} y={81} {...cLabel} textLength={13} lengthAdjust="spacingAndGlyphs">c10</text>
        <text x={244} y={83.5} {...cLabel} textLength={8.5} lengthAdjust="spacingAndGlyphs">c1</text>
        <text x={787.7} y={76} {...cLabel} textLength={22.3} lengthAdjust="spacingAndGlyphs">c1000</text>
        <text x={823.3} y={76} {...cLabel} textLength={18.3} lengthAdjust="spacingAndGlyphs">c100</text>
        <text x={842.7} y={82.5} {...cLabel} textLength={14} lengthAdjust="spacingAndGlyphs">c10</text>
        <text x={862.3} y={84} {...cLabel} textLength={8.3} lengthAdjust="spacingAndGlyphs">c1</text>
        <text x={438.7} y={583} {...cLabel} textLength={24} lengthAdjust="spacingAndGlyphs">c1000</text>
        <text x={483.3} y={573} {...cLabel} textLength={18.3} lengthAdjust="spacingAndGlyphs">c100</text>
        <text x={502.7} y={581.5} {...cLabel} textLength={14} lengthAdjust="spacingAndGlyphs">c10</text>
        <text x={526.7} y={583} {...cLabel} textLength={7.7} lengthAdjust="spacingAndGlyphs">c1</text>

        {/* CD markers */}
        <text x={458.3} y={315} fontSize={9.5} fontFamily="'DejaVu Sans',Arial,sans-serif" fill="#000" textLength={13.4} lengthAdjust="spacingAndGlyphs">CD</text>
        <circle cx={480.3} cy={318.3} r={4.3} fill="none" stroke="#000" strokeWidth={1.1} />
        <text x={1095} y={317} fontSize={9.5} fontFamily="'DejaVu Sans',Arial,sans-serif" fill="#000" textLength={13} lengthAdjust="spacingAndGlyphs">CD</text>
        <circle cx={1106.7} cy={319.5} r={2.2} fill="none" stroke="#000" strokeWidth={1} />
        <text x={742.7} y={820} fontSize={9} fontFamily="'DejaVu Sans',Arial,sans-serif" fill="#000" textLength={11.6} lengthAdjust="spacingAndGlyphs">CD</text>
        <ellipse cx={759} cy={824.7} rx={3.8} ry={6} fill="none" stroke="#000" strokeWidth={1.1} />

        {/* detector / regression boxes */}
        <Detector bx={467} by={20} bw={109} bh={84} tx={472.7} base={[41, 60, 75.7, 94]} lens={[30.7, 49, 64, 44.7]}
          combo={{ x: 505, y: 33, w: 66, h: 10 }} name="gag" nameSize={6.5}
          lines={["Slope:  -3.199936", "Intercept:  32.220741", "R2:  0.992435"]} />
        <Detector bx={1070} by={23} bw={106} bh={92} tx={1078.3} base={[45.7, 67.7, 88.3, 107.7]} lens={[28.3, 53.3, 65, 46.7]}
          combo={{ x: 1108.3, y: 37.3, w: 64.4, h: 11 }} name="tax" nameSize={6.5}
          lines={["Slope:  -3.244256", "Intercept:  35.231495", "R2:  0.981851"]} />
        <Detector bx={751.7} by={520.7} bw={111} bh={82.6} tx={760} base={[540, 557.7, 575, 592.3]} lens={[30, 47.3, 66.7, 46.7]}
          combo={{ x: 793.3, y: 532.3, w: 66, h: 11 }} name="GAPDH" nameSize={8}
          lines={["Slope:  -3.212595", "Intercept:  30.254772", "R2:  0.997417"]} />
      </svg>
    </div>
  );
}
